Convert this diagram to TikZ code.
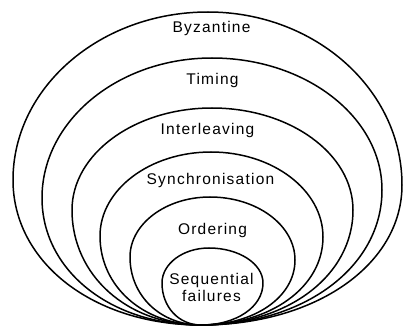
\documentclass[tikz,border=0pt]{standalone}
\usepackage{fontspec}
\setmainfont{Liberation Sans}[LetterSpace=8]
% egg-shaped ring: #1,#2 leftmost point; #3,#4 top point; #5,#6 rightmost point; all meet at the tip (201,325)
\newcommand\eggshape[6]{%
  \draw[ring] (tip) .. controls ({201-0.57*(201-#1)},325) and (#1,{#2+0.57*(325-#2)}) .. (#1,#2)
    .. controls (#1,{#2-0.552*(#2-#4)}) and ({#3-0.552*(#3-#1)},#4) .. (#3,#4)
    .. controls ({#3+0.552*(#5-#3)},#4) and (#5,{#6-0.552*(#6-#4)}) .. (#5,#6)
    .. controls (#5,{#6+0.57*(325-#6)}) and ({201+0.57*(#5-201)},325) .. (tip) -- cycle;}
\begin{document}
\begin{tikzpicture}[x=1pt,y=-1pt,
  ring/.style={draw=black,line width=1.5pt,line join=round},
  lbl/.style={anchor=base,inner sep=0pt,font=\fontsize{15.5}{17}\selectfont}]
\useasboundingbox (0,0) rectangle (405,326);
\coordinate (tip) at (201,325);
\eggshape{13}{180}{208}{12}{402}{185}
\eggshape{42}{198}{212}{58}{382}{190}
\eggshape{72}{210}{212}{108}{353}{210}
\eggshape{100}{236}{211}{152}{323}{237}
\eggshape{130}{257}{210}{197}{295}{260}
\eggshape{162}{283}{209}{248}{263}{283}
\node[lbl] (byz) at (211.5,33) {Byzantine};
\node[lbl] (tim) at (212.5,85) {Timing};
\node[lbl] (int) at (207.5,135) {Interleaving};
\node[lbl] (syn) at (210.5,185) {Synchronisation};
\node[lbl] (ord) at (212.5,235) {Ordering};
\node[lbl] (seq) at (211.5,285) {Sequential};
\node[lbl] (fail) at (211.5,302) {failures};
\end{tikzpicture}
\end{document}
